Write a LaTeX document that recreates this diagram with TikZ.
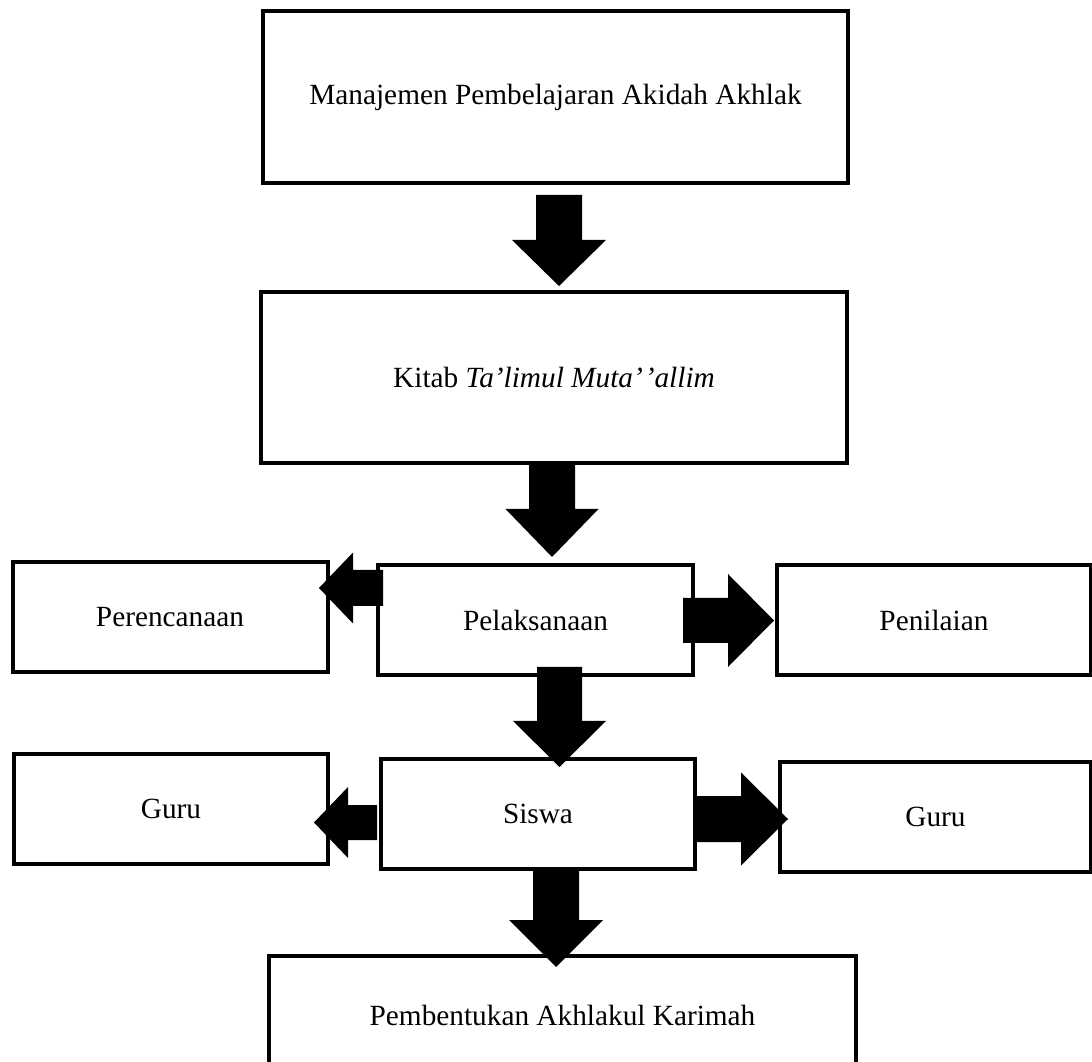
\documentclass[tikz,border=0pt]{standalone}
\usepackage{fontspec}
\setmainfont{Liberation Serif}
\usetikzlibrary{calc}
\tikzset{
  box/.style={draw=black, line width=4pt, rectangle, outer sep=0pt, inner sep=0pt,
    font=\fontsize{29.3}{35}\selectfont, align=center},
  blockfill/.style={fill=black}
}
\newcommand\blkdown[5]{\fill[blockfill] let \p1=(#1), \p2=(#2) in
  (\x1-#3,\y1) -- (\x1+#3,\y1) -- (\x1+#3,\y2+#5) -- (\x1+#4,\y2+#5) -- (\x1,\y2)
  -- (\x1-#4,\y2+#5) -- (\x1-#3,\y2+#5) -- cycle;}
\newcommand\blkleft[5]{\fill[blockfill] let \p1=(#1), \p2=(#2) in
  (\x1,\y1+#3) -- (\x1,\y1-#3) -- (\x2+#5,\y1-#3) -- (\x2+#5,\y1-#4) -- (\x2,\y1)
  -- (\x2+#5,\y1+#4) -- (\x2+#5,\y1+#3) -- cycle;}
\newcommand\blkright[5]{\fill[blockfill] let \p1=(#1), \p2=(#2) in
  (\x1,\y1+#3) -- (\x1,\y1-#3) -- (\x2-#5,\y1-#3) -- (\x2-#5,\y1-#4) -- (\x2,\y1)
  -- (\x2-#5,\y1+#4) -- (\x2-#5,\y1+#3) -- cycle;}
\begin{document}
\begin{tikzpicture}[x=1pt,y=1pt]
\useasboundingbox (0,0) rectangle (1092,1061);
\fill[white] (0,0) rectangle (1092,1061);

% boxes
\node[box, minimum width=585pt, minimum height=172pt] (m) at (555.5,964) {Manajemen Pembelajaran Akidah Akhlak};
\node[box, minimum width=586pt, minimum height=171pt] (k) at (554,683.5) {Kitab \textit{Ta’limul Muta’\kern2pt’allim}};
\node[box, minimum width=315pt, minimum height=110pt] (pr) at (170,444) {Perencanaan};
\node[box, minimum width=315pt, minimum height=110pt] (pl) at (535.5,441) {Pelaksanaan};
\node[box, minimum width=314pt, minimum height=110pt] (pn) at (934,441) {Penilaian};
\node[box, minimum width=314pt, minimum height=110pt] (g1) at (171,252) {Guru};
\node[box, minimum width=314pt, minimum height=110pt] (s) at (538,247) {Siswa};
\node[box, minimum width=311pt, minimum height=110pt] (g2) at (935.5,244) {Guru};
\node[box, minimum width=587pt, minimum height=119pt] (b) at (562.5,45.5) {Pembentukan Akhlakul Karimah};

% arrow end points
\coordinate (a1s) at ($(m.south)+(3.5,-12)$);
\coordinate (a1t) at ($(k.north)+(5,6)$);
\coordinate (a2s) at ($(k.south)+(-2,0)$);
\coordinate (a2t) at ($(pl.north)+(16.5,8)$);
\coordinate (a3s) at ($(pl.south)+(24,8)$);
\coordinate (a3t) at ($(s.north)+(21.5,-8)$);
\coordinate (a4s) at ($(s.south)+(18,-1)$);
\coordinate (a4t) at ($(b.north)+(-6.5,-11)$);
\coordinate (a5s) at ($(pl.west)+(5,32)$);
\coordinate (a5t) at ($(pr.east)+(-8.5,28)$);
\coordinate (a6s) at ($(pl.east)+(-10,-0.5)$);
\coordinate (a6t) at ($(pn.west)+(-3,-1)$);
\coordinate (a7s) at ($(s.west)+(-4,-8.5)$);
\coordinate (a7t) at ($(g1.east)+(-14,-14)$);
\coordinate (a8s) at ($(s.east)+(0,-5)$);
\coordinate (a8t) at ($(g2.west)+(8,-1)$);

% block arrows
\blkdown{a1s}{a1t}{23pt}{47pt}{46pt}
\blkdown{a2s}{a2t}{23pt}{46.5pt}{48pt}
\blkdown{a3s}{a3t}{22.5pt}{46.5pt}{46pt}
\blkdown{a4s}{a4t}{23pt}{47pt}{47pt}
\blkleft{a5s}{a5t}{18pt}{35.5pt}{34pt}
\blkright{a6s}{a6t}{22.5pt}{46.5pt}{46pt}
\blkleft{a7s}{a7t}{17.5pt}{35.5pt}{34pt}
\blkright{a8s}{a8t}{23pt}{46.5pt}{47pt}
\end{tikzpicture}
\end{document}
